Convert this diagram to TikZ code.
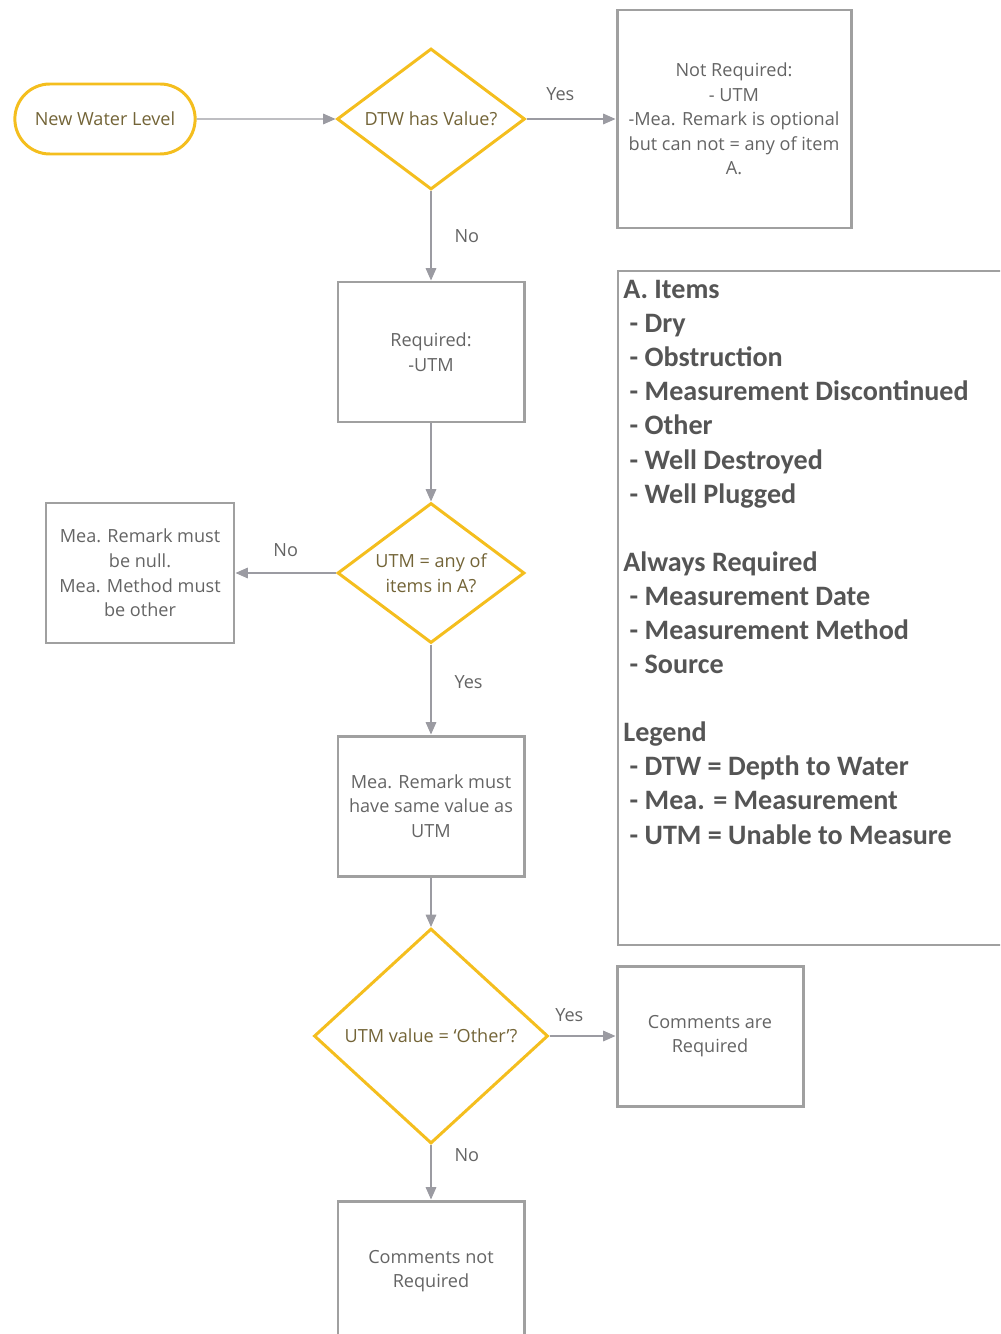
\documentclass[tikz,border=0pt]{standalone}
\usepackage{fontspec}
\setmainfont{Open Sans}
\newfontfamily\notefont{Carlito}
\usetikzlibrary{shapes.geometric,shapes.misc,arrows.meta}
\definecolor{gold}{RGB}{244,190,30}
\definecolor{goldtext}{RGB}{115,100,55}
\definecolor{boxline}{RGB}{160,160,160}
\definecolor{flowline}{RGB}{155,155,162}
\definecolor{boxtext}{RGB}{100,100,100}
\definecolor{notetext}{RGB}{85,85,85}
\begin{document}
\begin{tikzpicture}[
    font=\fontsize{10.3}{14}\selectfont,
    term/.style={draw=gold, line width=1.7pt, rounded rectangle,
                 minimum width=3.84cm, minimum height=1.40cm, text=goldtext},
    decide/.style={draw=gold, line width=1.7pt, diamond, align=center,
                   inner sep=-10pt, text=goldtext},
    stepbox/.style={draw=boxline, line width=1.7pt, rectangle, align=center,
                    minimum width=3.72cm, minimum height=2.80cm, text=boxtext},
    flow/.style={draw=flowline, line width=0.8pt,
                 -{Triangle[length=7pt,width=6pt]}},
    lbl/.style={text=boxtext, inner sep=1pt}
  ]
    \clip (0,0) rectangle (20,-26.68);

    %% --- Main column ---
    \node[term] (start) at (2.10,-2.38) {New Water Level};
    \node[decide, minimum width=3.76cm, minimum height=2.82cm]
      (hasdtw) at (8.62,-2.38) {DTW has Value?};
    \node[stepbox, minimum width=4.68cm, minimum height=4.36cm]
      (notreq) at (14.68,-2.38) {%
      Not Required:\\
      - UTM\\
      -Mea. Remark is optional\\
      but can not = any of item\\
      A.};
    \node[stepbox] (req) at (8.62,-7.04) {Required:\\-UTM};
    \node[decide, minimum width=3.74cm, minimum height=2.80cm]
      (anyof) at (8.62,-11.46) {UTM = any of\\items in A?};
    \node[stepbox, minimum width=3.76cm] (isnull) at (2.80,-11.46) {%
      Mea. Remark must\\
      be null.\\
      Mea. Method must\\
      be other};
    \node[stepbox] (same) at (8.62,-16.12) {%
      Mea. Remark must\\
      have same value as\\
      UTM};
    \node[decide, minimum width=4.68cm, minimum height=4.30cm]
      (isother) at (8.62,-20.72) {UTM value = ‘Other’?};
    \node[stepbox] (comreq) at (14.20,-20.72) {Comments are\\Required};
    \node[stepbox] (comnot) at (8.62,-25.42) {Comments not\\Required};

    %% --- Connectors ---
    \draw[flow] (start) -- (hasdtw);
    \draw[flow] (hasdtw) -- node[lbl, pos=0.38, above=9pt] {Yes} (notreq);
    \draw[flow] (hasdtw) -- node[lbl, right=12pt] {No} (req);
    \draw[flow] (req) -- (anyof);
    \draw[flow] (anyof) -- node[lbl, above=8pt] {No} (isnull);
    \draw[flow] (anyof) -- node[lbl, pos=0.42, right=12pt] {Yes} (same);
    \draw[flow] (same) -- (isother);
    \draw[flow] (isother) -- node[lbl, pos=0.3, above=7pt] {Yes} (comreq);
    \draw[flow] (isother) -- node[lbl, pos=0.18, right=12pt] {No} (comnot);

    %% --- Notes panel ---
    \draw[boxline, line width=0.6pt] (12.36,-5.42) rectangle (20.4,-18.90);
    \node[anchor=north west, align=left, text=notetext, inner sep=0pt,
          font=\notefont\bfseries\fontsize{16}{19.4}\selectfont]
      (notes) at (12.46,-5.60) {%
      A. Items\\
      \ - Dry\\
      \ - Obstruction\\
      \ - Measurement Discontinued\\
      \ - Other\\
      \ - Well Destroyed\\
      \ - Well Plugged\\[19.4pt]
      Always Required\\
      \ - Measurement Date\\
      \ - Measurement Method\\
      \ - Source\\[19.4pt]
      Legend\\
      \ - DTW = Depth to Water\\
      \ - Mea. = Measurement\\
      \ - UTM = Unable to Measure};
\end{tikzpicture}
\end{document}
